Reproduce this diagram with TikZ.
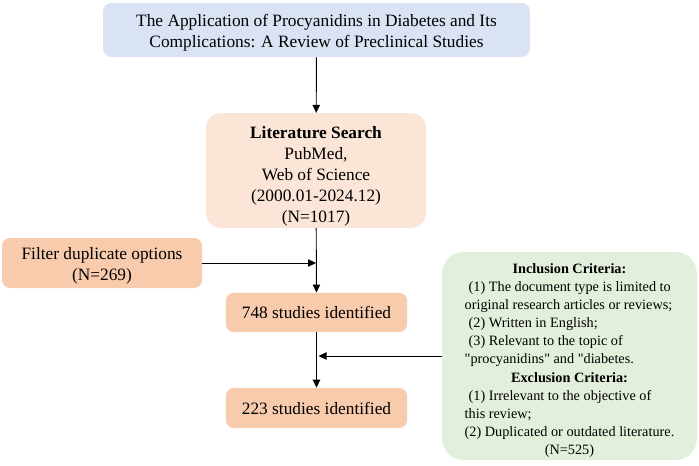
\documentclass[tikz,border=0pt]{standalone}
\usepackage{fontspec}
\setmainfont{Liberation Serif}
\usetikzlibrary{arrows.meta}

\definecolor{titleblue}{HTML}{DAE3F3}
\definecolor{searchpeach}{HTML}{FBE5D6}
\definecolor{stepsalmon}{HTML}{F8CBAD}
\definecolor{critgreen}{HTML}{E2EFDA}

\begin{document}
\begin{tikzpicture}[x=0.75pt,y=-0.75pt,
    box/.style={rounded corners=6pt, inner sep=0pt, align=center,
        font=\fontsize{13}{15.75}\selectfont},
    arrow/.style={-{Triangle[length=6pt,width=5.5pt]}, line width=0.7pt}]
    % Define the indent of the criteria lines and a strut that pushes text down
    \def\ind{\hspace{3pt}}
    \def\lift#1{\rule{0pt}{#1}}

    % Fix the page size
    \useasboundingbox (0,0) rectangle (699,465);

    % Title of the review
    \node[box, fill=titleblue, minimum width=320pt, minimum height=40.5pt] (title) at (316.5,30)
        {\lift{13.5pt}The Application of Procyanidins in Diabetes and Its\\Complications: A Review of Preclinical Studies};

    % Search and selection steps
    \node[box, fill=searchpeach, rounded corners=11pt, minimum width=165pt, minimum height=86pt] (search) at (316,170.5)
        {\lift{17.5pt}\textbf{Literature Search}\\PubMed,\\Web of Science\\(2000.01-2024.12)\\(N=1017)};
    \node[box, fill=stepsalmon, minimum width=150pt, minimum height=37.5pt] (filter) at (102,263)
        {\lift{13.4pt}Filter duplicate options\\(N=269)};
    \node[box, fill=stepsalmon, minimum width=136pt, minimum height=29.5pt] (s748) at (316.5,312.5)
        {748 studies identified};
    \node[box, fill=stepsalmon, minimum width=136pt, minimum height=30pt] (s223) at (316.5,408)
        {223 studies identified};

    % Inclusion and exclusion criteria
    \node[box, fill=critgreen, rounded corners=16pt, minimum width=191pt, minimum height=156pt,
        font=\fontsize{10.7}{13.6}\selectfont] (crit) at (569.5,356)
        {\begin{tabular}{@{}l@{}}
        \multicolumn{1}{c}{\lift{16pt}\textbf{Inclusion Criteria:}}\\
        \ind(1) The document type is limited to\\
        original research articles or reviews;\\
        \ind(2) Written in English;\\
        \ind(3) Relevant to the topic of\\
        \textquotedbl procyanidins\textquotedbl{} and \textquotedbl diabetes.\\
        \multicolumn{1}{c}{\textbf{Exclusion Criteria:}}\\
        \ind(1) Irrelevant to the objective of\\
        this review;\\
        (2) Duplicated or outdated literature.\\
        \multicolumn{1}{c}{(N=525)}
        \end{tabular}};

    % Points where side arrows meet the main line
    \coordinate (joinfilter) at (search.south |- filter.east);
    \coordinate (joincrit) at ([xshift=1.5pt]s748.south |- crit.west);

    % Arrows
    \draw[arrow] (title) -- (search);
    \draw[arrow] (search) -- (s748);
    \draw[arrow] (filter.east) -- (joinfilter);
    \draw[arrow] (s748) -- (s223);
    \draw[arrow] (crit.west) -- (joincrit);
\end{tikzpicture}
\end{document}
